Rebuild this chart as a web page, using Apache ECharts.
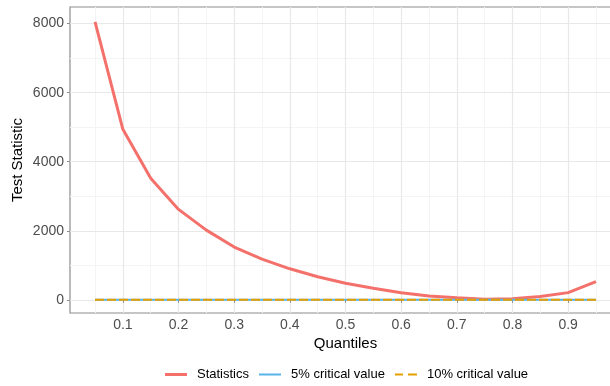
<!DOCTYPE html>
<html><head><meta charset="utf-8">
<script src="https://cdn.jsdelivr.net/npm/echarts@6/dist/echarts.min.js"></script>
<style>html,body{margin:0;padding:0;background:#fff}#c{width:610px;height:386px}</style>
</head><body><div id="c"></div>
<script>
const quantiles = [0.05,0.10,0.15,0.20,0.25,0.30,0.35,0.40,0.45,0.50,0.55,0.60,0.65,0.70,0.75,0.80,0.85,0.90,0.95];
const statistics = [8050,4940,3520,2620,2020,1530,1180,900,670,480,335,205,115,65,20,30,95,210,530];
const crit5 = [3.84,3.84,3.84,3.84,3.84,3.84,3.84,3.84,3.84,3.84,3.84,3.84,3.84,3.84,3.84,3.84,3.84,3.84,3.84];
const crit10 = [2.71,2.71,2.71,2.71,2.71,2.71,2.71,2.71,2.71,2.71,2.71,2.71,2.71,2.71,2.71,2.71,2.71,2.71,2.71];
const xTicks = [0.1,0.2,0.3,0.4,0.5,0.6,0.7,0.8,0.9];
const xMinor = [0.05,0.15,0.25,0.35,0.45,0.55,0.65,0.75,0.85,0.95];
const yTicks = [0,2000,4000,6000,8000];
const yMinor = [1000,3000,5000,7000];

const pair = (xs, ys) => xs.map((x,i)=>[x, ys[i]]);
const font = 'Liberation Sans, Arial, sans-serif';
const chart = echarts.init(document.getElementById('c'), null, {renderer:'canvas'});
const gridLines = [];
xMinor.forEach(v=>gridLines.push({xAxis:v, lineStyle:{color:'#f4f4f4', width:1, type:'solid'}}));
yMinor.forEach(v=>gridLines.push({yAxis:v, lineStyle:{color:'#f4f4f4', width:1, type:'solid'}}));
xTicks.forEach(v=>gridLines.push({xAxis:v, lineStyle:{color:'#e8e8e8', width:1.2, type:'solid'}}));
yTicks.forEach(v=>gridLines.push({yAxis:v, lineStyle:{color:'#e8e8e8', width:1.2, type:'solid'}}));

chart.setOption({
  animation:false,
  grid:{left:70, right:-11, top:7, bottom:73, show:true, borderColor:'#8c8c8c', borderWidth:1.2, backgroundColor:'#fff',
        containLabel:false, outerBoundsMode:'none'},
  xAxis:{type:'value', min:0.005, max:0.995,
    name:'Quantiles', nameLocation:'middle', nameGap:23, nameMoveOverlap:false,
    nameTextStyle:{fontFamily:font, fontSize:15, color:'#000'},
    axisLine:{show:false},
    splitLine:{show:false},
    axisTick:{show:true, customValues:xTicks, length:3, lineStyle:{color:'#8c8c8c'}},
    axisLabel:{customValues:xTicks, fontFamily:font, fontSize:14, color:'#4d4d4d', margin:5, formatter:v=>String(+(+v).toFixed(2))}
  },
  yAxis:{type:'value', min:-380, max:8480,
    name:'Test Statistic', nameLocation:'middle', nameGap:45, nameRotate:90, nameMoveOverlap:false,
    nameTextStyle:{fontFamily:font, fontSize:15, color:'#000'},
    axisLine:{show:false},
    splitLine:{show:false},
    axisTick:{show:true, customValues:yTicks, length:3, lineStyle:{color:'#8c8c8c'}},
    axisLabel:{customValues:yTicks, fontFamily:font, fontSize:14, color:'#4d4d4d', margin:6, formatter:v=>String(Math.round(v))}
  },
  legend:{bottom:0, left:160, itemWidth:22, itemHeight:3, itemGap:10,
    textStyle:{fontFamily:font, fontSize:13, color:'#000', padding:[0,0,0,5]},
    data:[
      {name:'Statistics', icon:'rect', itemStyle:{color:'#F4716B'}},
      {name:'5% critical value', icon:'path://M0,0L22,0L22,2L0,2Z', itemStyle:{color:'#56B4E9'}},
      {name:'10% critical value', icon:'path://M0,0L8,0L8,2L0,2Z M13,0L22,0L22,2L13,2Z', itemStyle:{color:'#E69F00'}}
    ]},
  series:[
    {type:'line', name:'_grid', data:[], silent:true, z:0, legendHoverLink:false,
     markLine:{silent:true, z:0, symbol:['none','none'], label:{show:false}, data:gridLines, animation:false}},
    {type:'line', name:'Statistics', data:pair(quantiles, statistics), showSymbol:false, symbol:'none',
     lineStyle:{color:'#F4716B', width:3}, itemStyle:{color:'#F4716B'}, z:2},
    {type:'line', name:'5% critical value', data:pair(quantiles, crit5), showSymbol:false, symbol:'none',
     lineStyle:{color:'#56B4E9', width:2}, itemStyle:{color:'#56B4E9'}, z:3},
    {type:'line', name:'10% critical value', data:pair(quantiles, crit10), showSymbol:false, symbol:'none',
     lineStyle:{color:'#E69F00', width:2, type:[9,3]}, itemStyle:{color:'#E69F00'}, z:4}
  ]
});
</script></body></html>
